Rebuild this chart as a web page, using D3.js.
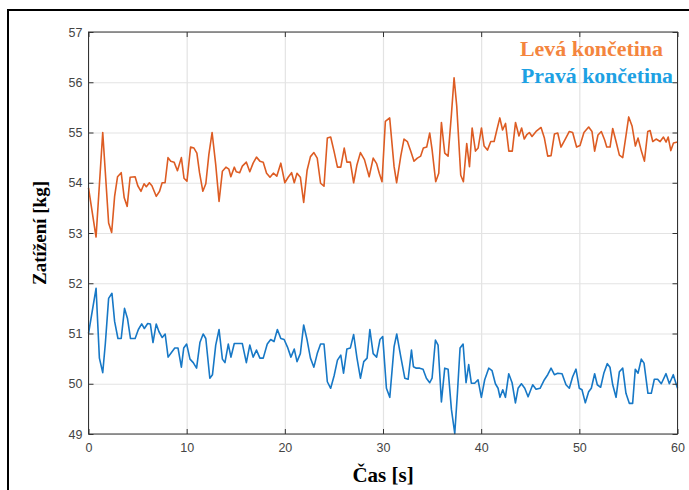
<!DOCTYPE html>
<html>
<head>
<meta charset="utf-8">
<script src="https://cdn.jsdelivr.net/npm/d3@7/dist/d3.min.js"></script>
<style>
  html, body { margin: 0; padding: 0; background: #fff; }
  svg { display: block; }
</style>
</head>
<body>
<svg id="chart" width="689" height="490"></svg>
<script>
// ---- data ----
const xTicks = [0, 10, 20, 30, 40, 50, 60];
const yTicks = [49, 50, 51, 52, 53, 54, 55, 56, 57];
const seriesNames = ["Levá končetina", "Pravá končetina"];
const xLabel = "Čas [s]";
const yLabel = "Zatížení [kg]";

// [time s, load kg]
const levaData = [
[0,53.9],[0.77,52.92],[1.45,55.0],[2.05,53.2],[2.36,53.01],[2.66,53.73],[2.96,54.12],[3.33,54.2],[3.64,53.7],[3.94,53.53],
[4.24,54.11],[4.75,54.12],[5.02,53.94],[5.35,53.83],[5.66,53.98],[5.89,53.92],[6.2,54.0],[6.46,53.94],[6.9,53.73],[7.24,53.83],
[7.5,54.0],[7.8,54.0],[8.1,54.5],[8.38,54.43],[8.72,54.41],[9.06,54.24],[9.46,54.5],[9.73,54.09],[10.03,54.03],[10.4,54.71],
[10.74,54.69],[11.04,54.59],[11.31,54.2],[11.65,53.83],[11.95,53.98],[12.26,54.56],[12.59,55.0],[12.96,54.36],[13.3,53.63],[13.64,54.23],
[14.0,54.31],[14.3,54.27],[14.5,54.12],
[14.85,54.31],[15.05,54.22],[15.4,54.2],[15.67,54.33],[16.08,54.41],[16.43,54.22],[16.77,54.39],[17.11,54.51],[17.46,54.43],[17.8,54.41],
[18.14,54.19],[18.49,54.11],[18.83,54.19],[19.18,54.13],[19.59,54.39],[20.0,54.0],[20.34,54.11],[20.69,54.2],[20.96,54.0],[21.24,54.19],
[21.58,54.11],[21.92,53.61],[22.27,54.25],[22.61,54.52],[22.96,54.6],[23.3,54.49],[23.64,53.99],[23.99,53.93],[24.33,54.89],[24.67,54.91],
[25.02,54.62],[25.36,54.31],[25.7,54.31],[26.05,54.69],[26.32,54.41],[26.67,54.41],[27.01,54.0],[27.35,54.36],[27.7,54.6],[28.11,54.46],
[28.59,54.12],[29.0,54.49],[29.35,54.38],[29.62,54.19],[29.9,54.02],
[30.24,55.22],[30.68,55.29],[31.13,54.32],[31.39,54.0],[31.81,54.53],[32.14,54.87],[32.48,54.82],[32.82,54.63],[33.16,54.43],[33.5,54.49],
[33.84,54.53],[34.11,54.69],[34.45,54.71],[34.76,54.99],[35.0,54.66],[35.37,54.02],[35.68,54.19],[35.95,55.2],[36.29,54.59],[36.63,54.53],
[36.97,55.36],[37.24,56.09],[37.51,55.53],[37.92,54.15],[38.19,54.02],[38.53,54.78],[38.81,54.32],[39.08,55.09],[39.42,54.63],[39.69,54.69],
[40.03,55.09],[40.3,54.73],[40.64,54.65],[40.98,54.82],[41.32,54.82],[41.56,55.02],[41.9,55.29],[42.18,55.05],[42.48,55.18],[42.82,54.63],
[43.17,54.63],[43.5,55.2],[43.85,54.93],[44.12,55.09],[44.39,54.87],[44.66,54.96],
[44.91,55.0],[45.18,54.92],[45.59,55.02],[46.1,55.1],[46.44,54.89],[46.78,54.53],[47.12,54.54],[47.46,54.97],[47.8,54.99],[48.13,54.71],
[48.57,54.87],[48.98,55.02],[49.32,55.0],[49.72,54.71],[50.07,54.74],[50.47,55.0],[50.95,55.11],[51.29,55.02],[51.56,54.63],[51.9,54.95],
[52.24,55.02],[52.58,54.85],[52.79,54.71],[53.13,54.71],[53.4,55.08],[53.74,54.82],[54.08,54.55],[54.42,54.5],[54.76,54.95],[55.03,55.31],
[55.37,55.13],[55.71,54.73],[55.98,54.89],[56.32,54.63],[56.63,54.43],[56.97,55.02],[57.21,55.04],[57.48,54.82],[57.82,54.87],[58.23,54.82],
[58.57,54.91],[58.84,54.81],[59.05,54.91],[59.32,54.64],[59.59,54.79],[60,54.81]
];

const pravaData = [
[0,51.0],[0.77,51.9],[1.11,50.51],[1.45,50.22],[1.72,50.81],[2.05,51.7],[2.39,51.8],[2.66,51.24],[3.0,50.9],[3.33,50.9],
[3.67,51.5],[3.97,51.3],[4.28,50.9],[4.75,50.9],[5.08,51.08],[5.42,51.19],[5.69,51.1],[6.03,51.2],[6.3,51.19],[6.57,50.82],
[6.9,51.19],[7.17,51.04],[7.51,50.92],[7.81,50.99],[8.11,50.53],[8.45,50.62],[8.79,50.71],[9.12,50.71],[9.46,50.33],[9.7,50.71],
[10.0,50.79],[10.34,50.49],[10.67,50.42],[11.01,50.31],[11.35,50.82],[11.68,50.99],[11.95,50.9],[12.36,50.11],[12.63,50.18],[12.96,50.77],
[13.3,51.08],[13.64,50.49],[13.9,50.42],[14.24,50.79],[14.51,50.53],
[14.85,50.8],[15.67,50.8],[16.08,50.42],[16.43,50.77],[16.77,50.53],[17.11,50.67],[17.46,50.51],[17.8,50.51],[18.21,50.79],[18.56,50.88],
[18.9,50.84],[19.24,51.08],[19.59,50.9],[19.93,50.88],[20.27,50.73],[20.62,50.53],[20.96,50.69],[21.24,50.44],[21.58,50.6],[21.92,51.17],
[22.27,50.87],[22.61,50.51],[22.96,50.33],[23.3,50.6],[23.64,50.79],[23.99,50.79],[24.33,50.04],[24.67,49.91],[25.02,50.16],[25.36,50.47],
[25.7,50.57],[25.98,50.21],[26.32,50.69],[26.67,50.71],[27.01,50.98],[27.35,50.51],[27.7,50.11],[28.04,50.44],[28.38,50.51],[28.66,51.08],
[29.0,50.6],[29.35,50.53],[29.69,50.88],[29.97,50.94],
[30.35,49.91],[30.69,49.73],[31.13,50.74],[31.4,50.99],[31.81,50.54],[32.22,50.11],[32.56,50.09],[32.9,50.67],[33.1,50.34],[33.4,50.31],
[33.74,50.31],[34.08,50.29],[34.42,50.11],[34.76,50.02],[35.0,50.11],[35.34,50.87],[35.61,50.77],[35.95,49.64],[36.29,50.31],[36.63,50.29],
[36.97,49.49],[37.31,49.01],[37.58,49.81],[37.85,50.71],[38.16,50.79],[38.46,50.02],[38.73,50.38],[39.0,50.01],[39.34,50.01],[39.68,50.08],
[40.02,49.73],[40.36,50.08],[40.77,50.31],[41.11,50.26],[41.45,50.0],[41.72,49.91],[41.92,49.73],[42.2,49.88],[42.47,49.73],[42.81,50.2],
[43.15,50.02],[43.49,49.62],[43.76,49.91],[44.1,50.0],[44.44,49.91],[44.78,49.74],
[45.25,49.98],[45.59,49.89],[46.0,49.91],[46.44,50.08],[46.78,50.18],[47.12,50.31],[47.46,50.18],[47.8,50.21],[48.24,50.2],[48.64,49.98],
[48.98,49.91],[49.32,50.14],[49.66,50.29],[50.0,49.91],[50.27,49.88],[50.61,49.62],[50.95,49.84],[51.22,49.91],[51.56,50.2],[51.83,49.98],
[52.17,49.93],[52.51,50.22],[52.85,50.4],[53.12,50.33],[53.4,49.98],[53.74,49.73],[54.08,50.24],[54.42,50.31],[54.75,49.81],[55.09,49.61],
[55.43,49.61],[55.7,50.29],[55.98,50.21],[56.31,50.49],[56.59,50.41],[56.99,49.81],[57.33,49.81],[57.64,50.09],[57.98,50.09],[58.35,50.0],
[58.83,50.2],[59.17,50.0],[59.57,50.18],[60,49.91]
];

// ---- layout ----
const svg = d3.select("#chart");
const plot = { left: 88.5, right: 677.5, top: 32, bottom: 434 };
const x = d3.scaleLinear().domain([0, 60]).range([plot.left, plot.right]);
const y = d3.scaleLinear().domain([49, 57]).range([plot.bottom, plot.top]);

// outer frame (left and top edges visible)
svg.append("path")
  .attr("d", `M8,490 L8,10 L689,10`)
  .attr("fill", "none").attr("stroke", "#000").attr("stroke-width", 2);

// grid
const grid = svg.append("g");
grid.append("g").attr("transform", `translate(0,${plot.bottom})`)
  .call(d3.axisBottom(x).tickValues(xTicks).tickSize(-(plot.bottom - plot.top)).tickFormat(""))
  .call(g => g.select(".domain").remove())
  .call(g => g.selectAll("line").attr("stroke", "#e3e3e3").attr("stroke-width", 1.2));
grid.append("g").attr("transform", `translate(${plot.left},0)`)
  .call(d3.axisLeft(y).tickValues(yTicks).tickSize(-(plot.right - plot.left)).tickFormat(""))
  .call(g => g.select(".domain").remove())
  .call(g => g.selectAll("line").attr("stroke", "#e3e3e3").attr("stroke-width", 1.2));

// lines
const line = d3.line().x(d => x(d[0])).y(d => y(d[1]));
svg.append("path").datum(levaData).attr("d", line)
  .attr("fill", "none").attr("stroke", "#DD5C23").attr("stroke-width", 1.6).attr("stroke-linejoin", "round");
svg.append("path").datum(pravaData).attr("d", line)
  .attr("fill", "none").attr("stroke", "#1778C6").attr("stroke-width", 1.6).attr("stroke-linejoin", "round");

// axes (ticks inside)
const axisColor = "#333";
const styleAxis = g => {
  g.select(".domain").remove();
  g.selectAll("line").attr("stroke", axisColor);
  g.selectAll("text").attr("fill", "#444").attr("font-family", "Liberation Sans, Arial, sans-serif").attr("font-size", 12.5);
};
svg.append("g").attr("transform", `translate(0,${plot.bottom})`)
  .call(d3.axisBottom(x).tickValues(xTicks).tickSize(-5).tickPadding(9)).call(styleAxis);
svg.append("g").attr("transform", `translate(${plot.left},0)`)
  .call(d3.axisLeft(y).tickValues(yTicks).tickSize(-5).tickPadding(6)).call(styleAxis);
svg.append("g").attr("transform", `translate(0,${plot.top})`)
  .call(d3.axisTop(x).tickValues(xTicks).tickSize(-5).tickFormat("")).call(styleAxis);
svg.append("g").attr("transform", `translate(${plot.right},0)`)
  .call(d3.axisRight(y).tickValues(yTicks).tickSize(-5).tickFormat("")).call(styleAxis);

// box
svg.append("rect")
  .attr("x", plot.left).attr("y", plot.top)
  .attr("width", plot.right - plot.left).attr("height", plot.bottom - plot.top)
  .attr("fill", "none").attr("stroke", axisColor).attr("stroke-width", 1);

// axis titles
svg.append("text").text(xLabel)
  .attr("x", x(30)).attr("y", 482).attr("text-anchor", "middle")
  .attr("font-family", "Liberation Serif, Times New Roman, serif").attr("font-weight", "bold")
  .attr("font-size", 21).attr("fill", "#000");
svg.append("text").text(yLabel)
  .attr("transform", `translate(46,${y(53)}) rotate(-90)`).attr("text-anchor", "middle")
  .attr("font-family", "Liberation Serif, Times New Roman, serif").attr("font-weight", "bold")
  .attr("font-size", 19).attr("fill", "#000");

// legend texts
const legend = [
  { name: seriesNames[0], color: "#F4853E", xr: 663, yb: 56, len: 143 },
  { name: seriesNames[1], color: "#1DA1E3", xr: 673, yb: 83, len: 152 }
];
svg.selectAll(".leg").data(legend).enter().append("text")
  .attr("class", "leg")
  .text(d => d.name)
  .attr("x", d => d.xr - d.len).attr("y", d => d.yb)
  .attr("textLength", d => d.len).attr("lengthAdjust", "spacingAndGlyphs")
  .attr("font-family", "Liberation Serif, Times New Roman, serif").attr("font-weight", "bold")
  .attr("font-size", 20).attr("fill", d => d.color);
</script>
</body>
</html>
